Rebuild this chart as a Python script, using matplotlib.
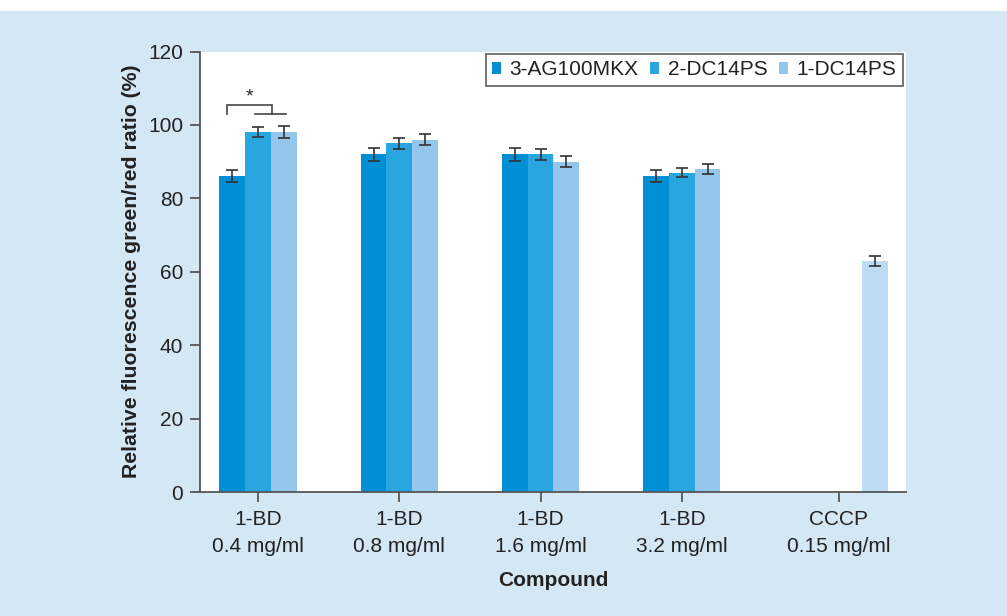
import matplotlib
matplotlib.use("Agg")
import matplotlib.pyplot as plt
import numpy as np
from matplotlib.patches import Rectangle

plt.rcParams['font.family'] = ['Liberation Sans', 'DejaVu Sans']

categories = ["1-BD\n0.4 mg/ml", "1-BD\n0.8 mg/ml", "1-BD\n1.6 mg/ml", "1-BD\n3.2 mg/ml", "CCCP\n0.15 mg/ml"]
series_names = ["3-AG100MKX", "2-DC14PS", "1-DC14PS"]
vals_3ag = [86, 92, 92, 86]
err_3ag = [1.6, 1.7, 1.7, 1.6]
vals_2dc = [98, 95, 92, 87]
err_2dc = [1.4, 1.5, 1.5, 1.2]
vals_1dc = [98, 96, 90, 88]
err_1dc = [1.6, 1.5, 1.5, 1.3]
cccp_val = [63]
cccp_err = [1.3]

colors = ["#008fd5", "#29a6e0", "#93c6eb"]
cccp_color = "#bcdcf3"
bg = "#d4e7f5"
spine_c = "#555555"

W, H = 1007, 616
fig = plt.figure(figsize=(W / 100, H / 100), dpi=100, facecolor=bg)
fig.patches.append(Rectangle((0, 1 - 11 / H), 1, 11 / H, transform=fig.transFigure,
                             facecolor="white", edgecolor="none", zorder=0))

ax_l, ax_r, ax_t, ax_b = 200, 906, 51.5, 492
ax = fig.add_axes([ax_l / W, 1 - ax_b / H, (ax_r - ax_l) / W, (ax_b - ax_t) / H])
ax.set_facecolor("white")

group_x = np.array([0, 1, 2, 3])
cccp_x = 4.11
bw = 0.182
ekw = dict(ecolor="#333333", elinewidth=1.2, capsize=4.2, capthick=1.2)

for i, (v, e) in enumerate([(vals_3ag, err_3ag), (vals_2dc, err_2dc), (vals_1dc, err_1dc)]):
    ax.bar(group_x + (i - 1) * bw, v, bw, yerr=e, color=colors[i], label=series_names[i],
           error_kw=ekw, zorder=2)
ax.bar([cccp_x + 0.255], cccp_val, bw, yerr=cccp_err, color=cccp_color, error_kw=ekw, zorder=2)

ax.set_xlim(-0.41, 4.586)
ax.set_ylim(0, 120)
ax.set_yticks(np.arange(0, 121, 20))
ax.set_xticks(list(group_x) + [cccp_x])
ax.set_xticklabels(categories, linespacing=1.5)

for s in ["top", "right"]:
    ax.spines[s].set_visible(False)
for s in ["left", "bottom"]:
    ax.spines[s].set_color(spine_c)
    ax.spines[s].set_linewidth(1.3)
ax.tick_params(axis="both", colors=spine_c, labelcolor="#222222", labelsize=15,
               length=7.2, width=1.3)
ax.tick_params(axis="y", pad=5)
ax.tick_params(axis="x", pad=6)

ax.set_ylabel("Relative fluorescence green/red ratio (%)", fontsize=15.3, fontweight="bold",
              color="#222222", labelpad=5)
ax.set_xlabel("Compound", fontsize=15, fontweight="bold", color="#222222", labelpad=11)

# significance bracket
bc = "#444444"
ax.plot([-0.217, -0.217, 0.1, 0.1], [103.1, 105.5, 105.5, 103.1], color=bc, lw=1.2,
        solid_joinstyle="miter", zorder=3)
ax.plot([-0.02, 0.2], [103.1, 103.1], color=bc, lw=1.2, zorder=3)
ax.text(-0.058, 105.2, "*", ha="center", va="bottom", fontsize=14, color="#222222")

leg = ax.legend(loc="upper right", bbox_to_anchor=(902.7 / W, 1 - 54 / H),
                bbox_transform=fig.transFigure, borderaxespad=0, ncol=3, fontsize=15,
                frameon=True, fancybox=False, handlelength=0.45, handleheight=0.55,
                handletextpad=0.4, columnspacing=0.55, borderpad=0.3)
leg.get_frame().set_edgecolor("#444444")
leg.get_frame().set_linewidth(1.3)
for t in leg.get_texts():
    t.set_color("#222222")

fig.savefig("out.png", dpi=100, facecolor=bg)
